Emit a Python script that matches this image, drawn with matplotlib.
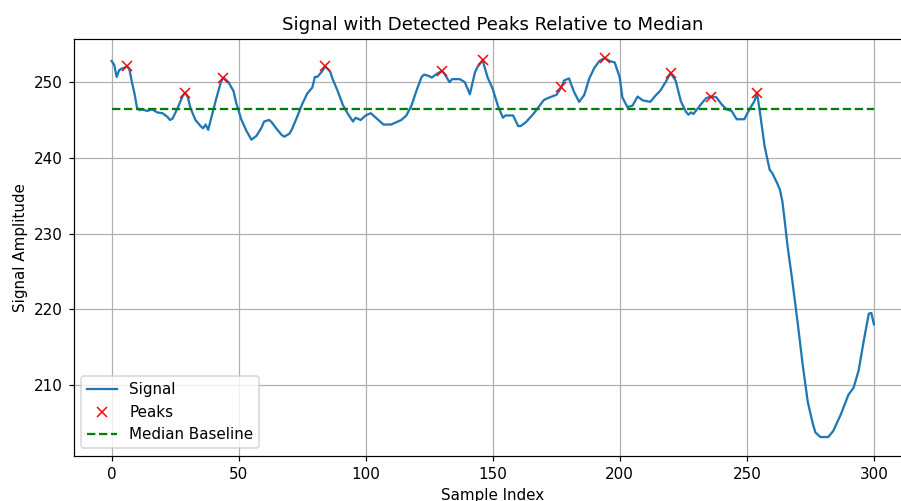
import numpy as np
import matplotlib
matplotlib.use("Agg")
import matplotlib.pyplot as plt

# sample index / amplitude of the smoothed signal
sample_idx = [0, 1, 2, 3, 4, 5, 6, 7, 8, 9, 10, 11, 12, 14, 16, 18, 20, 22, 23, 24,
              26, 28, 29, 30, 31, 33, 35, 36, 37, 38, 39, 41, 43, 44, 46, 48, 49, 51, 53, 55,
              57, 59, 60, 62, 63, 65, 67, 68, 70, 71, 73, 75, 77, 79, 80, 81, 83, 84, 86, 87,
              89, 91, 93, 95, 96, 98, 100, 102, 104, 107, 110, 112, 114, 116, 118, 120, 122, 123, 125, 126,
              128, 130, 131, 133, 134, 137, 139, 141, 143, 144, 146, 148, 150, 152, 154, 155, 158, 160, 161, 163,
              166, 168, 170, 171, 174, 175, 177, 178, 180, 182, 184, 186, 188, 190, 192, 194, 196, 198, 200, 201,
              203, 205, 207, 209, 212, 214, 216, 218, 220, 222, 224, 226, 227, 228, 229, 232, 234, 236, 238, 240,
              242, 244, 246, 249, 251, 253, 254, 255, 257, 259, 260, 262, 263, 264, 265, 266, 268, 270, 272, 274,
              276, 277, 279, 282, 284, 287, 290, 292, 294, 296, 298, 299, 300]
amplitude = [252.8, 252.3, 250.7, 251.6, 251.8, 251.9, 252.1, 251.7, 250.0, 248.5, 246.6, 246.3, 246.4, 246.2, 246.4, 246.0, 245.9, 245.4, 245.0, 245.2,
             246.6, 248.2, 248.6, 248.0, 246.6, 245.0, 244.2, 243.9, 244.4, 243.7, 245.0, 247.6, 250.0, 250.6, 250.0, 248.8, 247.3, 245.1, 243.6, 242.4,
             242.9, 244.0, 244.8, 245.0, 244.7, 243.8, 243.0, 242.8, 243.2, 243.8, 245.4, 247.1, 248.5, 249.3, 250.7, 250.7, 251.5, 252.1, 251.4, 250.4,
             248.8, 247.0, 245.8, 244.8, 245.3, 245.0, 245.6, 245.9, 245.3, 244.4, 244.4, 244.7, 245.0, 245.6, 246.9, 248.9, 250.7, 251.0, 250.8, 250.6,
             251.1, 251.5, 251.1, 250.0, 250.4, 250.4, 250.0, 248.4, 251.3, 252.0, 252.9, 250.6, 249.1, 246.9, 245.3, 245.6, 245.6, 244.2, 244.2, 244.7,
             245.8, 246.7, 247.6, 247.8, 248.2, 248.3, 249.3, 250.2, 250.5, 248.7, 247.4, 248.3, 250.5, 251.9, 252.8, 253.2, 252.8, 252.6, 250.6, 248.0,
             246.7, 246.9, 248.1, 247.6, 247.4, 248.2, 248.9, 250.0, 251.2, 250.2, 247.5, 246.1, 245.7, 246.0, 245.8, 247.1, 247.9, 248.1, 248.0, 247.1,
             246.4, 246.2, 245.1, 245.1, 246.4, 247.5, 248.6, 246.4, 241.5, 238.4, 238.0, 236.6, 235.8, 234.2, 231.4, 228.4, 223.5, 218.2, 212.6, 207.7,
             204.8, 203.7, 203.1, 203.1, 203.9, 206.1, 208.7, 209.6, 211.9, 215.8, 219.4, 219.5, 218.0]

peak_idx = [6, 29, 44, 84, 130, 146, 177, 194, 220, 236, 254]
median_level = 246.5

signal = dict(zip(sample_idx, amplitude))
peak_vals = [signal[p] for p in peak_idx]

dpi = 108.5
fig = plt.figure(figsize=(901 / dpi, 501 / dpi), dpi=dpi)
ax = fig.add_axes([73.5 / 901, 45 / 501, (912 - 73.5) / 901, (456 - 39) / 501])

ax.plot(sample_idx, amplitude, label='Signal')
ax.plot(peak_idx, peak_vals, 'rx', label='Peaks')
ax.plot([sample_idx[0], sample_idx[-1]], [median_level, median_level], 'g--', label='Median Baseline')

ax.set_title('Signal with Detected Peaks Relative to Median')
ax.set_xlabel('Sample Index')
ax.set_ylabel('Signal Amplitude')
ax.legend(loc='lower left')
ax.grid(True)

fig.savefig('out.png', dpi=dpi)
